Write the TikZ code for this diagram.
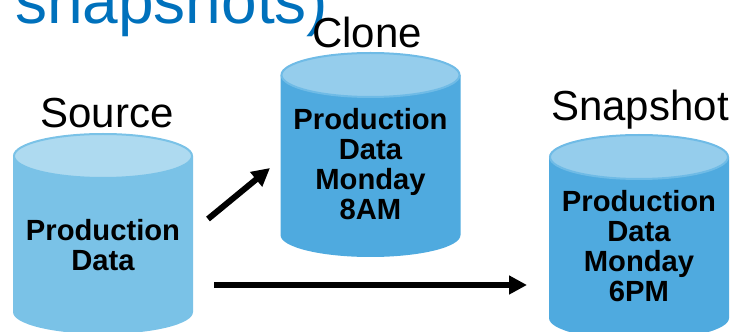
\documentclass[tikz,border=0pt]{standalone}
\usepackage{fontspec}
\setmainfont{Liberation Sans}
\usetikzlibrary{arrows.meta}
\definecolor{titleblue}{HTML}{0071BC}
\definecolor{lightbody}{HTML}{7AC2E7}
\definecolor{lighttop}{HTML}{AEDAF0}
\definecolor{darkbody}{HTML}{4FAADF}
\definecolor{darktop}{HTML}{95CDEC}
\definecolor{darkrim}{HTML}{6FBBE6}
\begin{document}
\begin{tikzpicture}
[x=1pt, y=1pt,
title/.style={anchor=base west, inner sep=0pt, text=titleblue, font=\fontsize{64}{64}\selectfont},
label/.style={anchor=base, inner sep=0pt, font=\fontsize{42}{42}\selectfont},
data/.style={inner sep=0pt, align=center, font=\fontsize{29.2}{30}\selectfont\bfseries},
flow/.style={draw=black, line width=6pt, -{Triangle[length=18pt, width=18pt]}}]

\useasboundingbox (0,0) rectangle (731,332);
\clip (0,0) rectangle (731,332);

\node[title] (head) at (15,308) {snapshots)};

% cylinders: centre x, top y, bottom y, body, top, rim
\foreach \x/\t/\b/\cbody/\ctop/\crim in {103/176/20/lightbody/lighttop/lightbody,
                                         370.5/257/97/darkbody/darktop/darkrim,
                                         639/175/14/darkbody/darktop/darkrim} {
  \fill[\cbody] (\x-90,\t) -- (\x-90,\b) arc[start angle=180, end angle=360, x radius=90, y radius=22]
    -- (\x+90,\t) -- cycle;
  \draw[\crim, fill=\ctop, line width=2pt] (\x,\t) ellipse [x radius=89, y radius=22];
}

\node[label] (source) at (107,204) {Source};
\node[label] (clone) at (367,284) {Clone};
\node[label] (snapshot) at (640,211) {Snapshot};

\node[data] (data1) at (103,87) {Production\\Data};
\node[data] (data2) at (370.5,168) {Production\\Data\\Monday\\8AM};
\node[data] (data3) at (639,86) {Production\\Data\\Monday\\6PM};

\coordinate (up0) at (208,113);
\coordinate (up1) at (270,164);
\coordinate (across0) at (214,47);
\coordinate (across1) at (527,47);

\draw[flow] (up0) -- (up1);
\draw[flow] (across0) -- (across1);
\end{tikzpicture}
\end{document}
